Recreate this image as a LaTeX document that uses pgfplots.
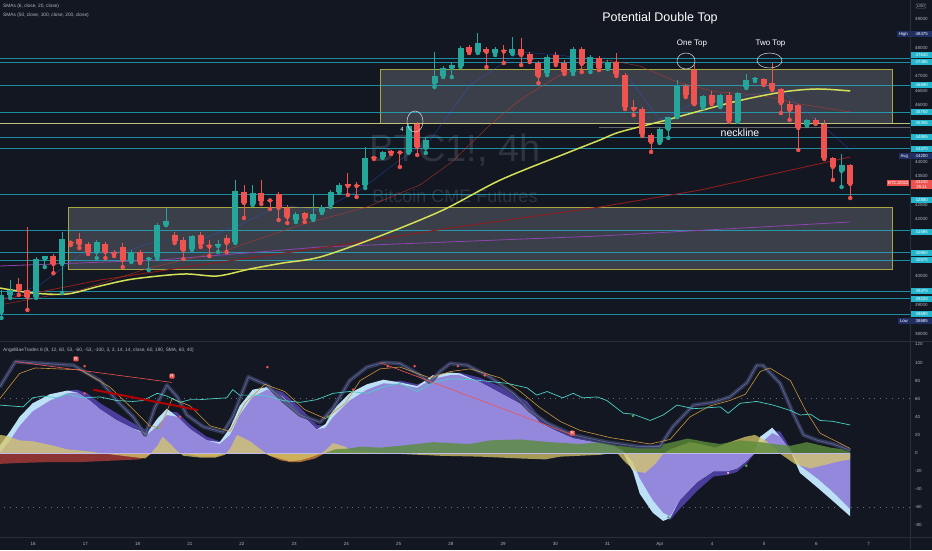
\documentclass[border=0pt]{standalone}
\usepackage{fontspec}
\setmainfont{Liberation Sans}
\usepackage{pgfplots}
\usepackage{pgfplotstable}
\pgfplotsset{compat=1.18}

\definecolor{bg}{HTML}{131722}
\definecolor{tvteal}{HTML}{26A69A}
\definecolor{tvred}{HTML}{EF5350}
\definecolor{sep}{HTML}{2A2E39}
\definecolor{txt}{HTML}{B2B5BE}
\definecolor{lvl}{HTML}{22B5CC}
\definecolor{boxedge}{HTML}{A8A63E}
\definecolor{boxfill}{HTML}{787B86}
\definecolor{sma50}{HTML}{D4E157}
\definecolor{sma100}{HTML}{8E1C1C}
\definecolor{sma200}{HTML}{8E44AD}
\definecolor{sma20}{HTML}{C0392B}
\definecolor{sma6}{HTML}{2962FF}
\definecolor{lav}{HTML}{9488DC}
\definecolor{lblue}{HTML}{BCE0F5}
\definecolor{dpurp}{HTML}{4A3D9C}
\definecolor{oscy}{HTML}{D8C86A}
\definecolor{oscg}{HTML}{5B8C3A}
\definecolor{oscr}{HTML}{A23838}
\definecolor{osco}{HTML}{D2813A}
\definecolor{tealline}{HTML}{4DD0C4}
\definecolor{stoch}{HTML}{3C4160}
\definecolor{stochl}{HTML}{6C78C0}
\definecolor{orangel}{HTML}{C9953A}
\definecolor{navy}{HTML}{1F2F66}
\definecolor{wm}{HTML}{2F333F}
\definecolor{green}{HTML}{4CAF50}

% ---------------- candles (4h, BTC1!, USD) ----------------
\pgfplotstableread{
i o h l c
0 38755 39525 38545 39350
1 39350 39870 39245 39525
4 39280 40675 39245 40605
5 40605 40710 40325 40710
7 40430 41550 39420 41305
11 40850 41270 40640 41200
15 40535 40920 40500 40850
17 40605 40675 40220 40640
18 40675 41865 40605 41795
19 41795 42390 41795 41935
22 40955 41445 40920 41410
25 41060 41270 40850 41130
27 41200 43370 41165 42985
29 42530 43195 42495 42915
34 41970 42250 41900 42180
36 42005 42845 41970 42180
37 42250 42495 42215 42425
38 42495 43020 42425 42950
39 42950 43265 42915 43195
42 43195 44525 43090 44140
44 44175 44385 44140 44350
47 44350 45330 44315 45260
49 44490 44840 44315 44770
50 46760 47845 46620 47005
51 47005 47355 46970 47285
52 47285 47495 46970 47390
53 47355 48055 47320 47985
55 47845 48510 47810 48160
57 47810 48020 47740 47950
59 47810 48370 47775 47950
63 47110 47740 47040 47670
66 47145 48020 47075 47950
68 47250 47740 47145 47670
70 47285 47565 47250 47495
76 44700 45225 44665 45155
77 45155 45570 44840 45570
78 45570 46865 45570 46655
81 45920 46340 45885 46305
83 45955 46375 45920 46340
85 45435 46445 45400 46410
86 46620 47075 46585 46865
87 46885 46970 46830 46920
93 45295 45505 45260 45470
97 43685 44280 43125 43895
}\tealc

\pgfplotstableread{
i o h l c
2 39730 39940 39350 39525
3 39525 41725 38825 39280
6 40710 40780 40110 40430
8 41200 41270 41095 41165
9 41305 41515 40990 41130
10 41130 41200 40780 40850
12 41130 41200 40640 40850
13 40850 40920 40710 40780
14 41025 41165 40325 40570
16 40850 40920 40465 40500
20 41445 41550 41165 41235
21 41270 41375 40605 40920
23 41445 41550 41025 41130
24 41080 41270 40710 41045
26 41340 41445 40850 41165
28 42950 43195 42040 42565
30 42915 43370 42530 42635
31 42670 42705 42355 42655
32 42880 42950 41970 42390
33 42390 42495 41865 42075
35 42215 42250 41900 42040
40 43230 43615 42845 43160
41 43195 43300 42775 43160
43 44175 44210 44105 44140
45 44385 44420 44280 44315
46 44365 44385 43825 44330
48 45330 45400 44245 44525
54 48020 48090 47810 47845
56 47950 48020 47320 47845
58 47900 48090 47460 47865
60 47950 48335 47390 47740
61 47775 47845 47495 47565
62 47460 47530 46760 47005
64 47740 47845 47390 47460
65 47460 47565 47075 47145
67 47950 48020 47145 47425
69 47635 47705 47215 47285
71 47495 47810 47005 47075
72 47040 47110 45850 45920
73 45920 46165 45640 45850
74 45850 45920 44910 44980
75 44945 45015 44350 44700
79 46655 46725 46270 46340
80 47215 47390 46025 46025
82 46340 46480 46025 46060
84 46340 46445 45400 45435
88 46900 46935 46690 46725
89 46760 47460 46515 46550
90 46550 46585 45710 46060
91 46025 46130 45470 45815
92 45990 46025 44420 45190
94 45470 45540 45330 45365
95 45330 45470 44105 44140
96 44140 44175 43370 43825
98 43895 43930 42740 43230
}\redc

% ---------------- moving averages (USD) ----------------
\pgfplotstableread{
x y
-0.2 39593
3.6 39418
7.6 39383
11.4 39663
15.2 39907
21.0 40082
24.9 40012
28.7 40257
32.5 40467
36.8 40677
43.7 41411
51.0 42321
57.6 43369
65.3 44314
69.1 44768
71.4 45048
76.8 45468
84.5 46097
90.2 46447
94.2 46552
98.0 46482
}\smaF

\pgfplotstableread{
x y
-0.2 39173
11.4 39872
22.9 40397
36.8 40991
51.8 41691
69.1 42425
80.7 43020
98.0 44174
}\smaH

\pgfplotstableread{
x y
-0.2 40362
18.3 40572
36.8 41026
69.1 41411
98.0 41901
}\smaT

\pgfplotstableread{
x y
-0.2 38998
9.1 39523
17.1 40292
26.0 40921
34.5 41796
42.2 42425
48.3 43194
52.0 43999
56.4 45293
60.0 46202
64.5 47041
70.0 47566
73.7 47356
78.0 46796
82.6 46447
87.6 46342
92.2 46027
98.0 45748
}\smaW

\pgfplotstableread{
x y
-0.2 39173
4.4 39698
9.1 40747
14.8 40921
18.3 41271
22.9 41271
27.5 41796
32.2 42495
36.8 42321
41.4 43020
46.0 44069
49.5 44768
54.1 46691
59.9 47845
64.5 47741
69.1 47496
72.6 46866
76.0 45468
79.5 45992
83.0 46167
86.4 46342
89.9 46517
93.4 45642
98.0 44418
}\smaS

% ---------------- oscillator ----------------
\pgfplotstableread{
x L F S
-0.2 0 8 0
1.0 14 24 14
2.1 30 40 30
3.6 46 55 46
5.6 58 65 58
7.6 66 69 69
8.7 67 67 70
9.9 60 60 66
11.4 48 48 55
13.3 36 36 44
15.2 27 27 33
16.8 20 22 25
18.0 30 38 30
19.1 42 49 46
20.3 40 40 45
21.8 26 26 31
23.7 14 14 18
25.2 10 12 13
26.4 20 28 20
27.5 42 52 42
29.0 62 70 62
30.7 70 73 73
32.5 62 62 67
34.5 44 44 50
36.4 26 26 31
37.4 28 32 30
38.3 40 48 40
40.2 58 66 58
42.2 70 76 70
44.1 77 81 77
46.0 76 78 80
48.0 72 74 76
49.8 82 86 82
51.8 86 89 86
52.9 86 88 89
55.3 78 78 83
58.4 62 62 70
60.7 50 50 57
62.2 33 33 39
64.1 24 24 28
66.0 16 16 18
68.3 12 12 14
70.6 7 7 9
71.8 2 0 3
72.2 -2 -8 -2
72.9 -10 -20 -10
73.7 -28 -45 -28
75.2 -52 -66 -52
76.4 -66 -75 -66
77.2 -70 -72 -74
78.3 -52 -52 -62
80.3 -32 -32 -42
82.2 -20 -20 -26
83.8 -20 -20 -24
84.9 -17 -17 -21
86.1 -8 -8 -11
87.0 0 2 0
87.6 10 18 10
89.0 22 28 24
89.9 18 18 24
91.1 2 2 5
92.2 -14 -22 -14
94.2 -28 -38 -28
96.0 -43 -53 -43
98.0 -62 -70 -62
}\wave

\pgfplotstableread{
x v
-0.2 73
1.6 101
3.3 100
8.3 97
11.4 80
13.3 58
15.2 40
16.6 20
17.7 50
19.1 75
20.3 62
21.4 42
23.3 29
25.6 23
26.7 40
28.5 84
30.7 75
32.5 58
34.5 42
36.8 34
38.3 50
40.2 80
42.2 95
44.1 100
46.0 99
48.0 88
49.5 78
50.6 90
51.8 99
53.8 97
56.4 84
59.1 66
61.0 47
63.0 33
66.0 20
69.9 12
73.7 7
76.0 7
77.5 29
79.9 53
82.2 56
84.1 62
86.1 78
87.2 97
87.9 97
89.9 77
91.4 44
92.6 20
94.2 14
96.0 10
98.0 3
}\gband

\pgfplotstableread{
x v
-0.2 60
2.1 88
3.9 94
9.1 92
12.5 73
14.8 52
17.1 30
18.3 28
19.7 60
21.8 52
24.1 30
26.4 24
28.1 55
30.4 76
32.7 68
35.0 48
37.4 38
39.7 55
41.4 80
43.7 93
46.0 95
49.5 83
51.8 90
54.1 93
57.6 83
59.9 68
62.2 50
64.5 35
66.8 25
70.3 17
74.9 10
77.2 15
79.5 40
81.8 52
84.1 58
85.9 65
87.6 90
88.7 94
91.1 80
92.8 48
94.5 22
98.0 5
}\oline

\pgfplotstableread{
x v
-0.2 53
2.5 51
3.6 61
4.8 63
6.4 61
7.6 65
9.4 61
11.4 62
13.3 58
15.2 57
16.3 58
18.0 66
19.1 63
20.6 56
21.8 59
22.9 59
24.4 60
26.0 61
26.7 70
27.5 64
29.0 64
30.7 63
32.5 58
34.5 56
36.4 59
38.3 66
40.2 68
42.2 66
44.1 73
46.0 77
48.0 68
49.8 78
51.8 82
54.4 81
58.4 77
60.7 72
61.8 64
63.0 68
64.8 61
66.0 66
67.1 61
68.8 62
69.9 58
71.8 44
72.9 43
74.9 36
76.4 42
78.0 53
79.9 49
81.5 50
83.0 51
83.9 44
85.3 55
87.2 57
89.1 53
91.1 47
92.2 42
93.4 43
94.5 36
96.0 35
98.0 31
}\tline

\pgfplotstableread{
x v
-0.2 20
0.6 19
2.1 14
3.6 13
5.6 9
7.6 4
9.9 2
11.4 0
14.8 -4
16.6 -6
17.1 -2
18.0 8
18.6 18
19.5 10
20.3 2
21.0 -3
22.9 -5
24.7 -5
25.8 -2
26.4 5
27.2 20
28.7 13
30.2 2
31.0 -3
33.3 -9
34.5 -8
35.6 -5
36.8 -1
37.4 3
38.3 11
39.7 7
40.2 3
41.4 2
46.0 -1
50.6 -3
55.3 -4
59.9 -6
62.8 -7
64.5 -4
66.8 -3
69.1 -2
70.6 0
71.1 0
72.0 -10
73.2 -20
74.3 -22
75.5 -12
76.3 -2
77.2 4
79.5 12
80.7 10
82.4 6
84.1 12
85.9 18
87.0 20
88.2 14
89.3 5
90.1 -2
91.6 -12
93.4 -17
95.1 -13
96.8 -9
98.0 -7
}\yarea

\pgfplotstableread{
x v
37.4 0
38.5 4
40.2 5
41.4 7
43.7 6
46.0 8
48.0 10
49.8 12
51.8 11
54.1 10
56.4 14
59.9 15
63.3 12
66.8 10
69.1 12
71.1 8
73.7 6
76.0 9
77.5 12
79.2 16
81.5 12
83.0 10
85.3 14
87.6 12
89.1 10
91.1 8
93.0 12
95.7 6
98.0 3
}\garea

\begin{document}
\begin{tikzpicture}[x=1pt,y=1pt]
\fill[bg] (0,0) rectangle (932,550);

% watermark
\node[text=wm, font=\fontsize{38}{38}\selectfont] at (455,400) {BTC1!, 4h};
\node[text=wm, font=\fontsize{18}{18}\selectfont] at (455,354) {Bitcoin CME Futures};

\pgfplotsset{tvaxis/.style={scale only axis, width=910pt, anchor=south west,
  xmin=-0.17, xmax=104.9, axis y line*=right, axis x line*=bottom,
  axis line style={draw=none}, major tick length=0pt, tick style={draw=none},
  /pgf/number format/assume math mode=true, /pgf/number format/1000 sep={},
  ticklabel style={font=\fontsize{4.5}{5}\selectfont, text=txt}}}

% ================= price pane (y axis in thousand USD) =================
\begin{axis}[tvaxis, at={(0pt,209pt)}, height=341pt,
  ymin=37.739, ymax=49.664, xtick=\empty,
  ytick={38,39,40,42,42.5,43.5,44,46,46.5,47,48,49},
  yticklabels={38000,39000,40000,42000,42500,43500,44000,46000,46500,47000,48000,49000},
  yticklabel style={xshift=1.5pt}]

% zones
\draw[boxedge, line width=0.8pt, fill=boxfill, fill opacity=0.4] (axis cs:43.8,45.365) rectangle (axis cs:102.9,47.250);
\draw[boxedge, line width=0.8pt, fill=boxfill, fill opacity=0.4] (axis cs:7.7,40.240) rectangle (axis cs:102.9,42.425);

% levels
\pgfplotsinvokeforeach{47.640,47.485,46.690,45.750,44.855,44.470,42.880,41.595,40.860,40.570,39.470,39.220,38.690}{
  \addplot[lvl, line width=0.5pt, opacity=0.75, forget plot] coordinates {(-1,#1) (106,#1)};
}
\addplot[boxedge!70!white, line width=0.6pt, forget plot] coordinates {(-1,45.355) (106,45.355)};
\addplot[white!35!bg, line width=0.4pt, forget plot] coordinates {(69,45.225) (106,45.225)};

% moving averages
\addplot[sma200, line width=0.8pt] table[x=x,y expr=\thisrow{y}/1000]{\smaT};
\addplot[sma100, line width=0.9pt] table[x=x,y expr=\thisrow{y}/1000]{\smaH};
\addplot[sma20, line width=0.5pt, opacity=0.75] table[x=x,y expr=\thisrow{y}/1000]{\smaW};
\addplot[sma6, line width=0.4pt, opacity=0.5] table[x=x,y expr=\thisrow{y}/1000]{\smaS};
\addplot[sma50, line width=1.5pt, smooth] table[x=x,y expr=\thisrow{y}/1000]{\smaF};

% wicks
\addplot[color=tvteal, only marks, mark=none, error bars/.cd, y dir=plus, y explicit, error mark=none,
  error bar style={draw=tvteal, color=tvteal, line width=0.9pt}]
  table[x=i, y expr=\thisrow{l}/1000, y error expr={(\thisrow{h}-\thisrow{l})/1000}]{\tealc};
\addplot[color=tvred, only marks, mark=none, error bars/.cd, y dir=plus, y explicit, error mark=none,
  error bar style={draw=tvred, color=tvred, line width=0.9pt}]
  table[x=i, y expr=\thisrow{l}/1000, y error expr={(\thisrow{h}-\thisrow{l})/1000}]{\redc};
% bodies
\addplot[color=tvteal, only marks, mark=none, error bars/.cd, y dir=plus, y explicit, error mark=none,
  error bar style={draw=tvteal, color=tvteal, line width=6pt}]
  table[x=i, y expr=\thisrow{o}/1000, y error expr={max(\thisrow{c}-\thisrow{o},25)/1000}]{\tealc};
\addplot[color=tvred, only marks, mark=none, error bars/.cd, y dir=plus, y explicit, error mark=none,
  error bar style={draw=tvred, color=tvred, line width=6pt}]
  table[x=i, y expr=\thisrow{c}/1000, y error expr={max(\thisrow{o}-\thisrow{c},25)/1000}]{\redc};
\end{axis}

% ================= oscillator pane =================
\begin{axis}[tvaxis, at={(0pt,13pt)}, height=195pt,
  ymin=-92.8, ymax=122.7, ytick={-80,-60,...,120}, yticklabel style={xshift=1.5pt},
  xtick={3.65,9.68,15.71,21.74,27.77,33.80,39.83,45.86,51.89,57.92,63.95,69.98,76.01,82.04,88.07,94.10,100.13},
  xticklabels={16,17,18,21,22,23,24,25,28,29,30,31,Apr,4,5,6,7},
  xticklabel style={yshift=-1.5pt}]

\addplot[txt!55!bg, line width=0.5pt, dash pattern=on 0.8pt off 5pt] coordinates {(-1,60) (106,60)};
\addplot[txt!55!bg, line width=0.5pt, dash pattern=on 0.8pt off 5pt] coordinates {(-1,-60) (106,-60)};

\addplot[draw=none, fill=dpurp] table[x=x,y=S]{\wave} \closedcycle;
\addplot[draw=none, fill=lblue] table[x=x,y=F]{\wave} \closedcycle;
\addplot[draw=none, fill=lav] table[x=x,y=L]{\wave} \closedcycle;

\addplot[draw=none, fill=oscr, fill opacity=0.85] coordinates {(-0.2,-12) (2.1,-11) (5.6,-10) (9.1,-10) (11.4,-9) (13.7,-8) (16.0,-7) (17.1,-2) (17.7,0)} \closedcycle;
\addplot[draw=none, fill=osco, fill opacity=0.8] coordinates {(21.0,0) (22.9,-4) (24.7,-4) (25.8,0)} \closedcycle;
\addplot[draw=none, fill=osco, fill opacity=0.8] coordinates {(30.2,0) (32.2,-8) (33.3,-10) (34.5,-10) (36.2,-6) (37.4,0)} \closedcycle;
\addplot[draw=none, fill=oscy, fill opacity=0.75] table[x=x,y=v]{\yarea} \closedcycle;
\addplot[draw=none, fill=oscg, fill opacity=0.8] table[x=x,y=v]{\garea} \closedcycle;
\addplot[lav!60!white, line width=0.6pt] coordinates {(-1,0) (98,0)};

\addplot[stoch, line width=4pt, opacity=0.8, line join=round] table[x=x,y=v]{\gband};
\addplot[stochl, line width=0.4pt] table[x=x,y=v]{\gband};
\addplot[orangel, line width=0.6pt] table[x=x,y=v]{\oline};
\addplot[tealline, line width=0.7pt] table[x=x,y=v]{\tline};

\addplot[tvred, line width=0.6pt] coordinates {(1.6,101) (19.7,78)};
\addplot[red!70!black, line width=2pt] coordinates {(10.6,70) (22.7,47.5)};
\addplot[tvred, line width=0.6pt] coordinates {(43.7,100) (65.9,20)};

\addplot[only marks, mark=*, mark size=1.1pt, color=tvred] coordinates {(9.6,96) (30.7,95) (44.6,96) (47.7,96) (9.6,66) (20.6,40) (40.6,70) (55.8,86) (52.7,96)};
\addplot[only marks, mark=*, mark size=1.1pt, color=green] coordinates {(18.0,27.6) (37.7,40) (72.9,41) (77.0,-71) (86.0,-14)};
\addplot[only marks, mark=*, mark size=0.8pt, color=pink] coordinates {(83.9,-22)};

\node[fill=tvred, text=white, rounded corners=1pt, inner sep=1pt, font=\fontsize{4.5}{5}\selectfont] at (axis cs:8.6,104) {R};
\node[fill=tvred, text=white, rounded corners=1pt, inner sep=1pt, font=\fontsize{4.5}{5}\selectfont] at (axis cs:19.7,85) {R};
\node[fill=tvred, text=white, rounded corners=1pt, inner sep=1pt, font=\fontsize{4.5}{5}\selectfont] at (axis cs:65.9,22) {R};
\end{axis}

% separators
\draw[sep, line width=1pt] (0,208.5) -- (932,208.5);
\draw[sep, line width=0.8pt] (0,13) -- (932,13);
\draw[sep, line width=0.8pt] (910.5,0) -- (910.5,550);

% legends
\node[anchor=west, text=txt, font=\fontsize{4.8}{5}\selectfont, inner sep=0pt] at (3,543.3) {SMAs (6, close, 20, close)};
\node[anchor=west, text=txt, font=\fontsize{4.8}{5}\selectfont, inner sep=0pt] at (3,535) {SMAs (50, close, 100, close, 200, close)};
\node[anchor=west, text=txt, font=\fontsize{4.8}{5}\selectfont, inner sep=0pt] at (3,200) {AngelBaeTrades 8 (9, 12, 60, 53, -60, -53, -100, 3, 3, 14, 14, close, 60, 190, SMA, 60, 40)};

% annotations
\node[text=white, font=\fontsize{12.5}{13}\selectfont] at (660,532) {Potential Double Top};
\node[text=white, font=\fontsize{8}{9}\selectfont] at (692,506.5) {One Top};
\node[text=white, font=\fontsize{8}{9}\selectfont] at (770.5,506.5) {Two Top};
\draw[white!85!bg, line width=0.5pt] (686,489) ellipse (9 and 8);
\draw[white!85!bg, line width=0.5pt] (769.5,489.5) ellipse (12.5 and 7.5);
\node[text=white, font=\fontsize{10.5}{11}\selectfont] at (740,417) {neckline};
\node[text=white, font=\fontsize{6}{6}\selectfont] at (402,421) {4};
\draw[white!85!bg, line width=0.5pt] (415,428.5) ellipse (8 and 10.5);

% price scale labels
\tikzset{lv/.style={fill=lvl, text=white, font=\fontsize{4.3}{4.3}\selectfont, inner sep=0pt, minimum width=21pt, minimum height=6.5pt, anchor=west},
  nv/.style={fill=navy, text=white, font=\fontsize{4.3}{4.3}\selectfont, inner sep=0pt, minimum height=6.5pt}}
\foreach \p/\y in {47640/495,47485/488,46690/465,45750/438,45355/427,44855/413,44470/401,42880/350,41595/318,40860/297,40570/290,39470/259,39220/251,38690/236}{
  \node[lv] at (911,\y) {\p};
}
\node[nv, anchor=west, minimum width=21pt] at (911,516) {48475};
\node[nv, anchor=east, minimum width=13pt] at (910,516) {High};
\node[nv, anchor=west, minimum width=21pt] at (911,394) {44200};
\node[nv, anchor=east, minimum width=11pt] at (910,394) {Avg};
\node[nv, anchor=west, minimum width=21pt] at (911,229) {38685};
\node[nv, anchor=east, minimum width=12pt] at (910,229) {Low};
\node[fill=tvred, text=white, font=\fontsize{4.3}{5}\selectfont, inner sep=0.6pt, minimum width=21pt, anchor=west, align=center] at (911,365.5) {43240\\25:11};
\node[fill=tvred, text=white, font=\fontsize{4.3}{4.3}\selectfont, inner sep=0.8pt, minimum height=6.5pt, anchor=east] at (909.5,367) {BTCJ2022};
\node[draw=txt!50!bg, rounded corners=1pt, text=txt, font=\fontsize{4}{4}\selectfont, inner sep=0.8pt] at (921,544) {USD};

\pgfresetboundingbox
\useasboundingbox (0,0) rectangle (932,550);
\end{tikzpicture}
\end{document}
